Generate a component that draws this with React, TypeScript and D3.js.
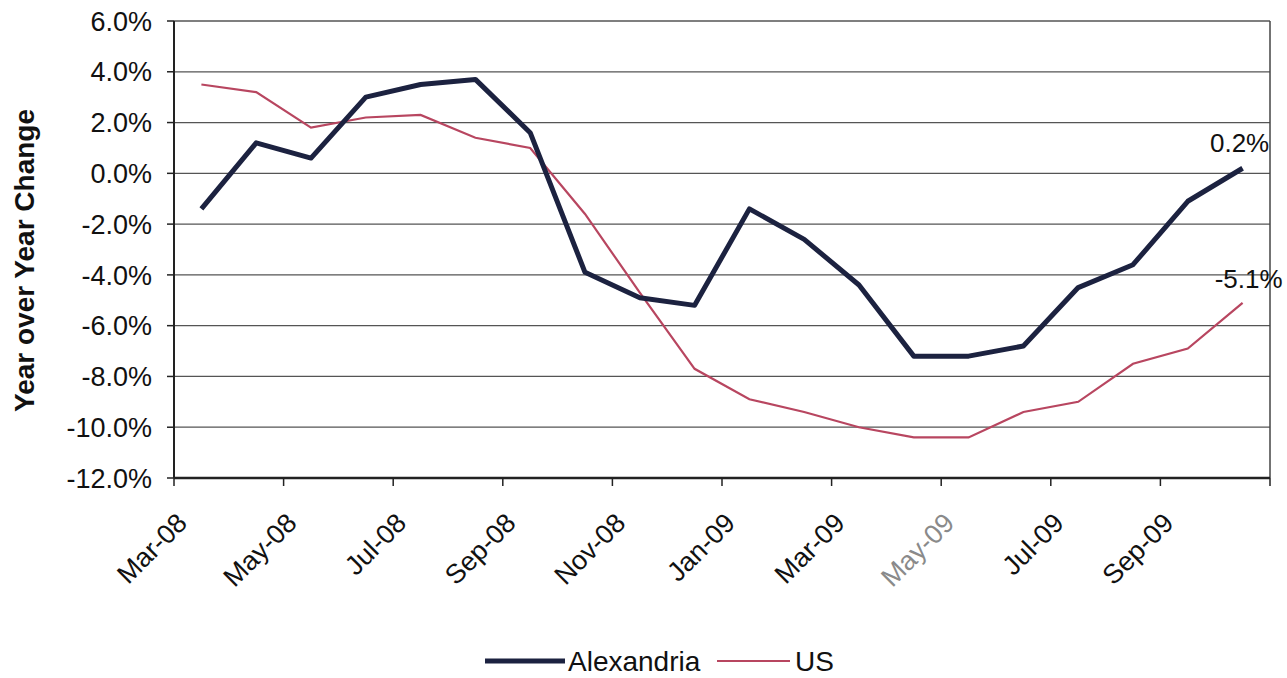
import { useEffect, useRef } from 'react';
import * as d3 from 'd3';

const months = [
  'Mar-08', 'Apr-08', 'May-08', 'Jun-08', 'Jul-08', 'Aug-08', 'Sep-08', 'Oct-08', 'Nov-08', 'Dec-08',
  'Jan-09', 'Feb-09', 'Mar-09', 'Apr-09', 'May-09', 'Jun-09', 'Jul-09', 'Aug-09', 'Sep-09', 'Oct-09',
];
const alexandria = [-1.4, 1.2, 0.6, 3.0, 3.5, 3.7, 1.6, -3.9, -4.9, -5.2, -1.4, -2.6, -4.4, -7.2, -7.2, -6.8, -4.5, -3.6, -1.1, 0.2];
const us = [3.5, 3.2, 1.8, 2.2, 2.3, 1.4, 1.0, -1.6, -4.7, -7.7, -8.9, -9.4, -10.0, -10.4, -10.4, -9.4, -9.0, -7.5, -6.9, -5.1];
const yTicks = [6, 4, 2, 0, -2, -4, -6, -8, -10, -12];
const endLabels = ['0.2%', '-5.1%'];

const W = 1287;
const H = 678;
const margin = { left: 174, right: 17, top: 21, bottom: 200 };
const navy = '#1c2240';
const crimson = '#b84660';
const font = '"Liberation Sans", Arial, sans-serif';

export default function App() {
  const svgRef = useRef<SVGSVGElement>(null);

  useEffect(() => {
    if (!svgRef.current) return;
    const svg = d3.select(svgRef.current);
    svg.selectAll('*').remove();

    const innerW = W - margin.left - margin.right;
    const innerH = H - margin.top - margin.bottom;
    const g = svg.append('g').attr('transform', `translate(${margin.left},${margin.top})`);

    const x = d3.scaleBand().domain(months).range([0, innerW]);
    const y = d3.scaleLinear().domain([-12, 6]).range([innerH, 0]);

    // gridlines
    g.selectAll('.grid')
      .data(yTicks)
      .enter()
      .append('line')
      .attr('x1', 0)
      .attr('x2', innerW)
      .attr('y1', (d) => y(d))
      .attr('y2', (d) => y(d))
      .attr('stroke', '#555')
      .attr('stroke-width', 1.3);

    // right border
    g.append('line')
      .attr('x1', innerW).attr('x2', innerW)
      .attr('y1', 0).attr('y2', innerH)
      .attr('stroke', '#444').attr('stroke-width', 1.5);

    // y axis
    g.append('line')
      .attr('x1', 0).attr('x2', 0)
      .attr('y1', 0).attr('y2', innerH)
      .attr('stroke', '#222').attr('stroke-width', 2);
    g.selectAll('.ytick')
      .data(yTicks)
      .enter()
      .append('line')
      .attr('x1', -7).attr('x2', 0)
      .attr('y1', (d) => y(d)).attr('y2', (d) => y(d))
      .attr('stroke', '#222').attr('stroke-width', 1.5);
    g.selectAll('.ylab')
      .data(yTicks)
      .enter()
      .append('text')
      .attr('x', -22)
      .attr('y', (d) => y(d))
      .attr('dy', '0.36em')
      .attr('text-anchor', 'end')
      .attr('font-family', font)
      .attr('font-size', 27)
      .attr('fill', '#111')
      .text((d) => `${d.toFixed(1)}%`);

    // x axis
    g.append('line')
      .attr('x1', 0).attr('x2', innerW)
      .attr('y1', innerH).attr('y2', innerH)
      .attr('stroke', '#222').attr('stroke-width', 2.5);
    const tickMonths = months.filter((_, i) => i % 2 === 0);
    const tickXs = [...tickMonths.map((m) => x(m) as number), innerW];
    g.selectAll('.xtick')
      .data(tickXs)
      .enter()
      .append('line')
      .attr('x1', (d) => d).attr('x2', (d) => d)
      .attr('y1', innerH).attr('y2', innerH + 8)
      .attr('stroke', '#222').attr('stroke-width', 1.5);
    g.selectAll('.xlab')
      .data(tickMonths)
      .enter()
      .append('text')
      .attr('transform', (d) => `translate(${(x(d) as number) + 8},${innerH + 40}) rotate(-45)`)
      .attr('text-anchor', 'end')
      .attr('dy', '0.35em')
      .attr('font-family', font)
      .attr('font-size', 27)
      .attr('fill', (d) => (d === 'May-09' ? '#8a8a8a' : '#111'))
      .text((d) => d);

    const line = d3.line<number>()
      .x((_, i) => (x(months[i]) as number) + x.bandwidth() / 2)
      .y((d) => y(d));

    g.append('path')
      .datum(us)
      .attr('d', line)
      .attr('fill', 'none')
      .attr('stroke', crimson)
      .attr('stroke-width', 2.2);
    g.append('path')
      .datum(alexandria)
      .attr('d', line)
      .attr('fill', 'none')
      .attr('stroke', navy)
      .attr('stroke-width', 5)
      .attr('stroke-linejoin', 'round');

    // end labels
    const last = months.length - 1;
    const lx = (x(months[last]) as number) + x.bandwidth() / 2;
    g.append('text')
      .attr('x', lx - 3)
      .attr('y', y(alexandria[last]) - 16)
      .attr('text-anchor', 'middle')
      .attr('font-family', font)
      .attr('font-size', 26)
      .attr('fill', '#111')
      .text(endLabels[0]);
    g.append('text')
      .attr('x', lx + 6)
      .attr('y', y(us[last]) - 15)
      .attr('text-anchor', 'middle')
      .attr('font-family', font)
      .attr('font-size', 26)
      .attr('fill', '#111')
      .text(endLabels[1]);

    // y axis title
    svg.append('text')
      .attr('transform', `translate(34,${margin.top + innerH / 2 + 11}) rotate(-90)`)
      .attr('text-anchor', 'middle')
      .attr('font-family', font)
      .attr('font-size', 28)
      .attr('font-weight', 'bold')
      .attr('fill', '#111')
      .text('Year over Year Change');

    // legend
    const leg = svg.append('g').attr('transform', 'translate(0,661)');
    leg.append('line').attr('x1', 485).attr('x2', 565).attr('y1', 0).attr('y2', 0)
      .attr('stroke', navy).attr('stroke-width', 5);
    leg.append('text').attr('x', 568).attr('y', 0).attr('dy', '0.36em')
      .attr('font-family', font).attr('font-size', 28).attr('fill', '#111').text('Alexandria');
    leg.append('line').attr('x1', 717).attr('x2', 790).attr('y1', 0).attr('y2', 0)
      .attr('stroke', crimson).attr('stroke-width', 2.2);
    leg.append('text').attr('x', 795).attr('y', 0).attr('dy', '0.36em')
      .attr('font-family', font).attr('font-size', 28).attr('fill', '#111').text('US');
  }, []);

  return (
    <div style={{ position: 'absolute', left: 0, top: 0 }}>
      <svg ref={svgRef} width={W} height={H} style={{ display: 'block', background: '#fff' }} />
    </div>
  );
}
